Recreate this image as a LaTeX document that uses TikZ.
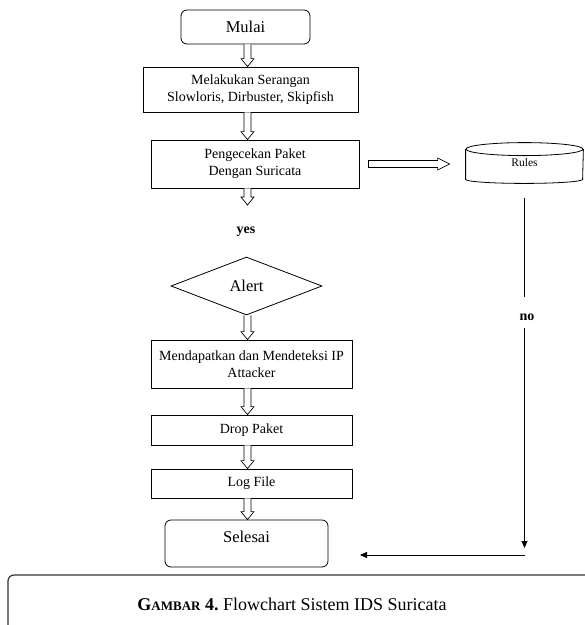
\documentclass[tikz,border=0pt]{standalone}
\usepackage{fontspec}
\setmainfont{Liberation Serif}
\usetikzlibrary{shapes.geometric,calc,arrows.meta}

\begin{document}
\begin{tikzpicture}[
  x=1pt, y=1pt, line width=0.8pt,
  proc/.style={rectangle,draw,minimum width=201pt,align=center,inner sep=2pt,font=\fontsize{14}{17}\selectfont},
  term/.style={rectangle,draw,rounded corners=6pt,align=center,font=\fontsize{16.5}{19}\selectfont},
  dec/.style={diamond,draw,aspect=2.6,inner sep=0pt,minimum width=151pt,minimum height=58pt,font=\fontsize{16.5}{19}\selectfont},
  rulesbox/.style={rectangle,minimum width=117pt,minimum height=40pt,font=\fontsize{11.5}{13}\selectfont},
  lbl/.style={font=\bfseries\fontsize{14}{15}\selectfont},
  tip/.style={-{Triangle[length=7pt,width=6pt]}},
  hollow/.style={line width=0.7pt,fill=white},
  fatdown/.style={to path={let \p1=(\tikztostart), \p2=(\tikztotarget) in
    (\x1-3.5pt,\y1) -- (\x1-3.5pt,\y2+8pt) -- (\x1-6.5pt,\y2+8pt) -- (\x1,\y2)
    -- (\x1+6.5pt,\y2+8pt) -- (\x1+3.5pt,\y2+8pt) -- (\x1+3.5pt,\y1)}},
  fatright/.style={to path={let \p1=(\tikztostart), \p2=(\tikztotarget) in
    (\x1,\y1+3.5pt) -- (\x2-12pt,\y1+3.5pt) -- (\x2-12pt,\y1+6pt) -- (\x2,\y1)
    -- (\x2-12pt,\y1-6pt) -- (\x2-12pt,\y1-3.5pt) -- (\x1,\y1-3.5pt) -- cycle}}
]
  \useasboundingbox (0,0) rectangle (585,-625);
  \coordinate (spine) at (247.5,0);

  \node[term,minimum width=129pt,minimum height=34pt] (mulai) at (245.5,-27) {Mulai};
  \node[proc,minimum width=215pt,minimum height=45pt] (serangan) at (250.5,-89.5) {Melakukan Serangan\\Slowloris, Dirbuster, Skipfish};
  \node[proc,minimum width=208pt,minimum height=48pt] (cek) at (255,-164) {Pengecekan Paket\\Dengan Suricata};
  \node[rulesbox] (rules) at (524.5,-163) {Rules};
  \node[lbl] (yes) at (246,-232) {yes};
  \node[dec] (alert) at (246.5,-286) {Alert};
  \node[proc,minimum height=48pt] (deteksi) at (251.5,-364) {Mendapatkan dan Mendeteksi IP\\Attacker};
  \node[proc,minimum height=30pt] (drop) at (251.5,-430) {Drop Paket};
  \node[proc,minimum height=29pt] (log) at (251.5,-483.5) {Log File};
  \node[term,minimum width=163pt,minimum height=47pt,text height=11pt,text depth=14pt] (selesai) at (246.5,-543.5) {Selesai};
  \node[lbl] (no) at (527,-317) {no};

  \coordinate (yestip) at (247.5,-205);
  \coordinate (notop) at (524.5,-297);
  \coordinate (nobot) at (524.5,-328);
  \coordinate (nodown) at (524.5,-548);
  \coordinate (nocorner) at (524.5,-555);
  \coordinate (noend) at (360,-555);

  \draw ([yshift=-6.5pt]rules.north) ellipse [x radius=58.5pt,y radius=6.5pt];
  \draw ([yshift=-6.5pt]rules.north west) -- ([yshift=4pt]rules.south west)
    arc [start angle=180,end angle=360,x radius=58.5pt,y radius=4pt] -- ([yshift=-6.5pt]rules.north east);

  \draw[hollow] (mulai.south -| spine) to[fatdown] (serangan.north -| spine);
  \draw[hollow] (serangan.south -| spine) to[fatdown] (cek.north -| spine);
  \draw[hollow] (cek.south -| spine) to[fatdown] (yestip);
  \draw[hollow] (alert.south -| spine) to[fatdown] (deteksi.north -| spine);
  \draw[hollow] (deteksi.south -| spine) to[fatdown] (drop.north -| spine);
  \draw[hollow] (drop.south -| spine) to[fatdown] (log.north -| spine);
  \draw[hollow] (log.south -| spine) to[fatdown] (selesai.north -| spine);
  \draw[hollow] ([xshift=9pt]cek.east) to[fatright] ([xshift=-16pt]rules.west);

  \draw[shorten <=15pt] (rules.south) -- (notop);
  \draw[tip] (nobot) -- (nodown);
  \draw[tip] (nocorner) -- (noend);

  \draw[line width=1.2pt,black!80] (8,-625) -- (8,-581) arc [start angle=180,end angle=90,radius=6pt] -- (585,-575);
  \node[font=\fontsize{18}{21}\selectfont] (caption) at (292,-604) {\bfseries G{\fontsize{13}{15}\selectfont AMBAR} 4.\ \mdseries Flowchart Sistem IDS Suricata};
\end{tikzpicture}
\end{document}
